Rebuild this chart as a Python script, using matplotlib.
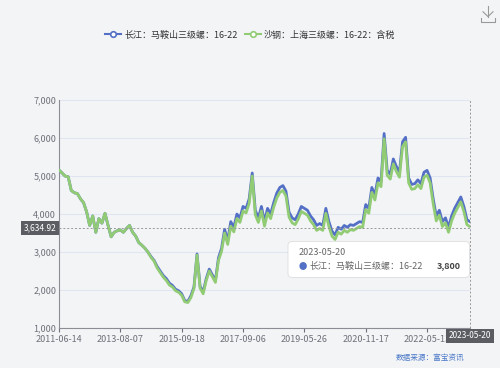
import numpy as np
import matplotlib.pyplot as plt
from matplotlib.patches import FancyBboxPatch
from matplotlib.lines import Line2D

plt.rcParams['font.family'] = ['Noto Sans CJK SC', 'DejaVu Sans']

tick_labels = ['2011-06-14', '2013-08-07', '2015-09-18', '2017-09-06',
               '2019-05-26', '2020-11-17', '2022-05-13']
last_date = '2023-05-20'
name_cj = '长江：马鞍山三级螺：16-22'
name_sg = '沙钢：上海三级螺：16-22：含税'

changjiang = [5160, 5080, 5000, 4980, 4620, 4560, 4540, 4400, 4300, 4060,
              3700, 3950, 3520, 3880, 3760, 4020, 3700, 3400, 3520, 3560,
              3580, 3520, 3620, 3700, 3520, 3420, 3250, 3180, 3100, 3000,
              2880, 2780, 2620, 2500, 2380, 2300, 2180, 2120, 2020, 1980,
              1900, 1720, 1700, 1850, 2080, 2950, 2100, 1950, 2300, 2550,
              2400, 2250, 2850, 3100, 3600, 3300, 3800, 3650, 4000, 3900,
              4200, 4150, 4400, 5080, 4100, 3900, 4200, 3800, 4150, 4000,
              4300, 4550, 4700, 4750, 4600, 4050, 3900, 3850, 4000, 4200,
              4150, 4100, 3950, 3850, 3700, 3750, 3700, 4150, 3800, 3550,
              3450, 3650, 3600, 3700, 3650, 3720, 3700, 3750, 3800, 3780,
              4250, 4150, 4700, 4500, 4950, 4850, 6120, 5150, 5050, 5450,
              5250, 5100, 5900, 6020, 4950, 4780, 4800, 4900, 4800, 5100,
              5150, 4950, 4400, 3950, 4100, 3800, 3900, 3650, 3950, 4150,
              4300, 4450, 4200, 3850, 3800]

shagang = [5160, 5080, 5000, 4980, 4620, 4560, 4540, 4400, 4300, 4060,
           3700, 3950, 3520, 3880, 3760, 4020, 3700, 3400, 3520, 3560,
           3580, 3520, 3620, 3700, 3520, 3420, 3250, 3180, 3100, 3000,
           2860, 2760, 2580, 2460, 2340, 2250, 2130, 2080, 1980, 1940,
           1860, 1690, 1670, 1800, 2040, 2920, 2050, 1900, 2250, 2500,
           2350, 2200, 2780, 3020, 3500, 3200, 3680, 3530, 3880, 3780,
           4080, 4030, 4280, 5000, 3980, 3780, 4080, 3680, 4030, 3880,
           4180, 4420, 4570, 4620, 4470, 3920, 3770, 3720, 3870, 4070,
           4020, 3970, 3820, 3720, 3570, 3620, 3570, 4020, 3670, 3420,
           3330, 3520, 3470, 3570, 3520, 3590, 3570, 3620, 3670, 3650,
           4120, 4020, 4570, 4370, 4820, 4720, 5980, 5020, 4920, 5320,
           5120, 4970, 5770, 5900, 4820, 4650, 4670, 4770, 4670, 4970,
           5020, 4820, 4270, 3820, 3970, 3670, 3770, 3520, 3820, 4020,
           4170, 4320, 4070, 3720, 3670]

y_pointer = 3634.92

blue = '#5470c6'
green = '#91cc75'
bg = '#f3f4f6'

x = np.arange(len(changjiang))

fig = plt.figure(figsize=(5, 3.68), dpi=100, facecolor=bg)
ax = fig.add_axes([0.118, 0.1087, 0.822, 0.6193])
ax.set_facecolor(bg)

ax.plot(x, changjiang, color=blue, lw=2, zorder=3)
ax.plot(x, shagang, color=green, lw=2, zorder=4)

ax.set_xlim(0, len(x) - 1)
ax.set_ylim(1000, 7000)
ax.set_yticks(range(1000, 7001, 1000))
ax.set_yticklabels([f'{v:,}' for v in range(1000, 7001, 1000)])
ax.set_xticks(range(0, 121, 20))
ax.set_xticklabels(tick_labels)
ax.tick_params(axis='both', labelsize=6.5, colors='#6e7079', length=0, pad=2)
ax.tick_params(axis='x', length=3, color='#6e7079')
ax.grid(axis='y', color='#e0e6f1', lw=0.8)
for s in ['top', 'right']:
    ax.spines[s].set_visible(False)
for s in ['left', 'bottom']:
    ax.spines[s].set_color('#8a8d96')
    ax.spines[s].set_linewidth(0.8)

# axis pointers
ax.axhline(y_pointer, color='#999999', lw=0.7, ls=(0, (2, 2)), zorder=5)
ax.axvline(len(x) - 1, color='#999999', lw=0.7, ls=(0, (2, 2)), zorder=5, clip_on=False)
ax.text(-0.006, y_pointer, f'{y_pointer:,.2f}', transform=ax.get_yaxis_transform(),
        ha='right', va='center', fontsize=6, color='white', zorder=10,
        bbox=dict(boxstyle='square,pad=0.3', fc='#5b5d63', ec='none'))
ax.text(len(x) - 1, 920, last_date, ha='center', va='top', fontsize=6,
        color='white', zorder=10, clip_on=False,
        bbox=dict(boxstyle='square,pad=0.3', fc='#5b5d63', ec='none'))

# tooltip
tip = FancyBboxPatch((0.58, 0.25), 0.355, 0.09, transform=fig.transFigure,
                     boxstyle='round,pad=0.004,rounding_size=0.01',
                     fc='white', ec='#dddddd', lw=0.6, zorder=20)
fig.patches.append(tip)
fig.text(0.598, 0.313, last_date, fontsize=6.5, color='#666666', va='center', zorder=21)
fig.text(0.598, 0.277, '●', fontsize=6, color=blue, va='center', zorder=21)
fig.text(0.618, 0.277, name_cj, fontsize=6.5, color='#666666', va='center', zorder=21)
fig.text(0.922, 0.277, f'{changjiang[-1]:,}', fontsize=6.5, color='#444444',
         fontweight='bold', va='center', ha='right', zorder=21)

# legend
handles = [Line2D([], [], color=blue, lw=1.5, marker='o', ms=4, mfc='white', mec=blue, mew=1.2),
           Line2D([], [], color=green, lw=1.5, marker='o', ms=4, mfc='white', mec=green, mew=1.2)]
fig.legend(handles, [name_cj, name_sg], loc='center', bbox_to_anchor=(0.5, 0.905),
           ncol=2, frameon=False, fontsize=6.5, handlelength=1.8, columnspacing=0.8,
           handletextpad=0.3, labelcolor='#333333')

fig.text(0.86, 0.022, '数据来源：富宝资讯', fontsize=5.5, color='#4a78c8', ha='center')

# download icon
ic = '#999999'
fig.add_artist(Line2D([0.976, 0.976], [0.985, 0.955], color=ic, lw=0.8, transform=fig.transFigure))
fig.add_artist(Line2D([0.966, 0.976, 0.986], [0.968, 0.955, 0.968], color=ic, lw=0.8, transform=fig.transFigure))
fig.add_artist(Line2D([0.962, 0.962, 0.99, 0.99], [0.952, 0.94, 0.94, 0.952], color=ic, lw=0.8, transform=fig.transFigure))

fig.savefig('out.png', dpi=100, facecolor=bg)
